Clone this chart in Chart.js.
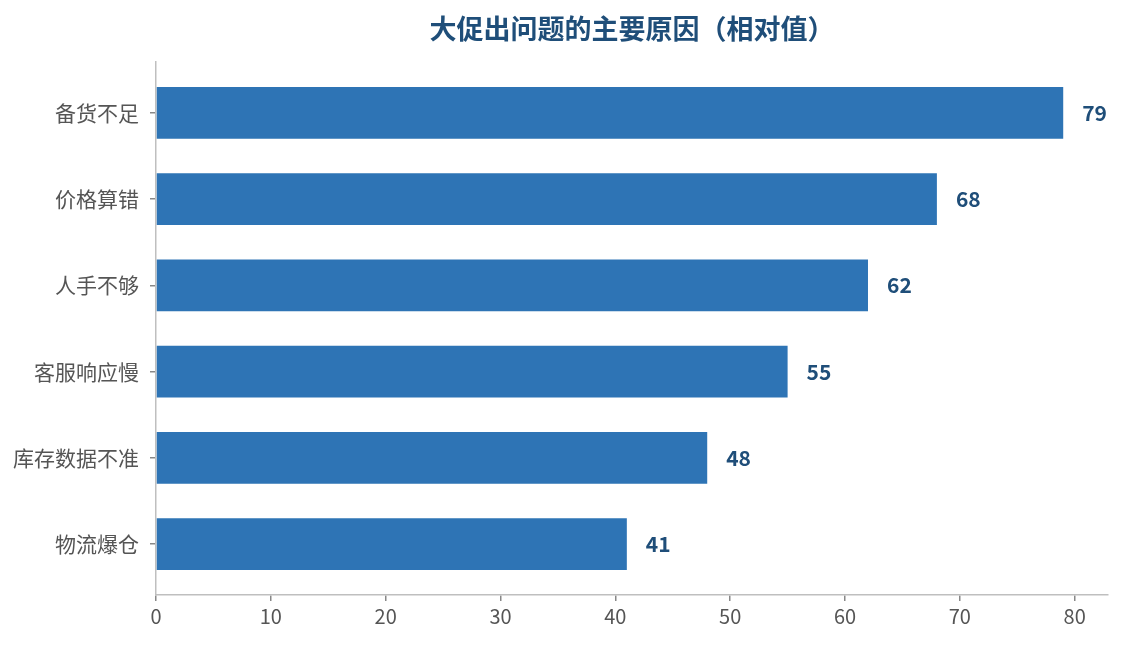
<!DOCTYPE html>
<html><head><meta charset="utf-8">
<script src="https://cdn.jsdelivr.net/npm/chart.js@4.4.0/dist/chart.umd.min.js"></script>
<style>html,body{margin:0;padding:0;background:#fff}#wrap{width:1124px;height:645px}</style>
</head><body><div id="wrap"><canvas id="c"></canvas></div>
<script>
const categories = ["备货不足","价格算错","人手不够","客服响应慢","库存数据不准","物流爆仓"];
const values = [79, 68, 62, 55, 48, 41];
const xTicks = [0, 10, 20, 30, 40, 50, 60, 70, 80];
const titleText = "大促出问题的主要原因（相对值）";
const FONT = "'Noto Sans CJK SC','Microsoft YaHei','Noto Sans',sans-serif";

const points = values.map((v, i) => ({ x: v, y: i }));

const valueLabels = {
  id: 'valueLabels',
  afterDatasetsDraw(chart) {
    const ctx = chart.ctx;
    const meta = chart.getDatasetMeta(0);
    ctx.save();
    ctx.font = "bold 21px " + FONT;
    ctx.fillStyle = "#1f4e79";
    ctx.textAlign = "left";
    ctx.textBaseline = "middle";
    meta.data.forEach((bar, i) => {
      ctx.fillText(String(values[i]), bar.x + 19, bar.y);
    });
    ctx.restore();
  }
};

const centeredTitle = {
  id: 'centeredTitle',
  afterDraw(chart) {
    const ctx = chart.ctx;
    const a = chart.chartArea;
    ctx.save();
    ctx.font = "bold 27px " + FONT;
    ctx.fillStyle = "#1f4e79";
    ctx.textAlign = "center";
    ctx.textBaseline = "middle";
    ctx.fillText(titleText, (a.left + a.right) / 2, 29);
    ctx.restore();
  }
};

new Chart(document.getElementById('c'), {
  type: 'bar',
  data: {
    datasets: [{
      data: points,
      backgroundColor: '#2e74b5',
      barPercentage: 0.6,
      categoryPercentage: 1.0
    }]
  },
  options: {
    indexAxis: 'y',
    responsive: true,
    maintainAspectRatio: false,
    animation: false,
    layout: { padding: { left: 0, right: 16, top: 62, bottom: 14 } },
    plugins: {
      legend: { display: false },
      tooltip: { enabled: false },
      title: { display: false }
    },
    scales: {
      x: {
        type: 'linear',
        min: 0,
        max: 82.9,
        ticks: { color: '#555', font: { family: FONT, size: 20 }, padding: 3 },
        afterBuildTicks(axis) { axis.ticks = xTicks.map(v => ({ value: v })); },
        grid: { display: true, drawOnChartArea: false, drawTicks: true, tickLength: 6, color: '#888', lineWidth: 1.5 },
        border: { display: true, color: '#bfbfbf', width: 1.5 }
      },
      y: {
        type: 'linear',
        reverse: true,
        offset: false,
        min: -0.59,
        max: categories.length - 1 + 0.59,
        afterBuildTicks(axis) { axis.ticks = categories.map((c, i) => ({ value: i })); },
        afterFit(axis) { axis.width = 156; },
        ticks: {
          color: '#555', font: { family: FONT, size: 21 }, padding: 11,
          callback: (v) => categories[Math.round(v)]
        },
        grid: { display: true, offset: false, drawOnChartArea: false, drawTicks: true, tickLength: 6, color: '#888', lineWidth: 1.5 },
        border: { display: true, color: '#bfbfbf', width: 1.5 }
      }
    }
  },
  plugins: [valueLabels, centeredTitle]
});
</script></body></html>
